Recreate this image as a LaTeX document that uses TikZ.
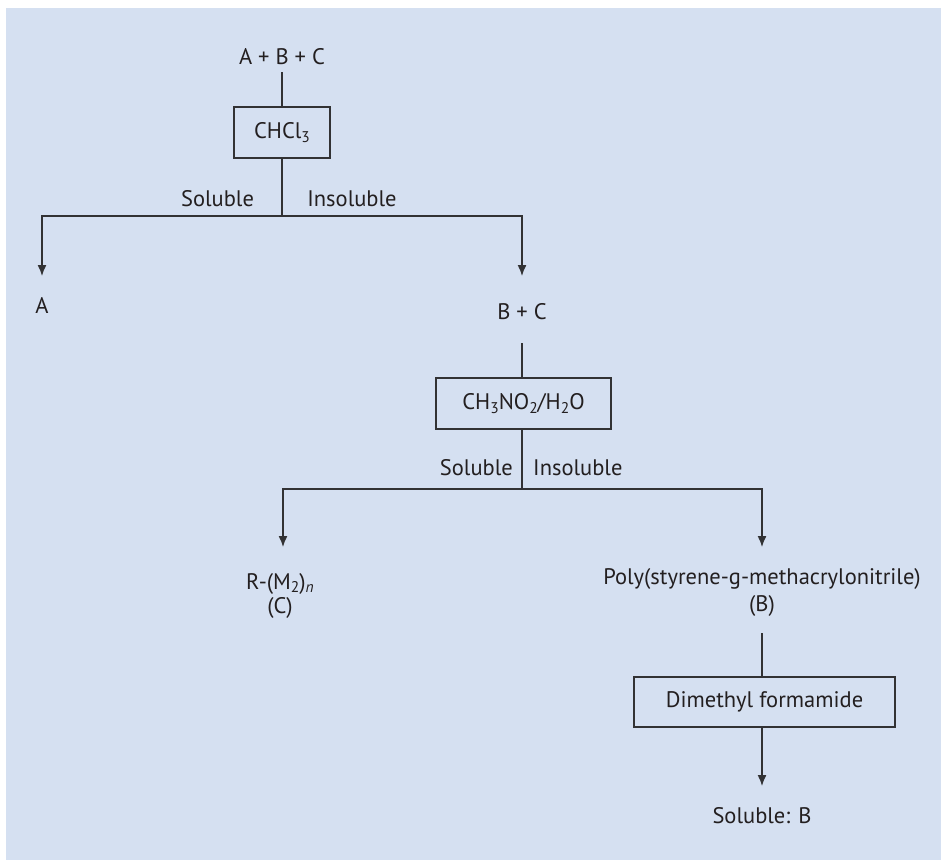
\documentclass[tikz,border=0pt]{standalone}
\usepackage{fontspec}
\setmainfont{PT Sans}
\usetikzlibrary{arrows.meta}
\definecolor{bgblue}{RGB}{213,224,241}
\definecolor{linegray}{RGB}{50,50,52}
\definecolor{txt}{RGB}{35,31,32}
\newcommand\chemsub[1]{\raisebox{-0.32ex}{\fontsize{15.5}{15.5}\selectfont #1}}
\tikzset{
  lbl/.style={inner sep=0pt, text height=16pt, text depth=4pt, text=txt, font=\fontsize{22.5}{27}\selectfont},
  solv/.style={draw=linegray, line width=1.4pt, fill=bgblue, inner sep=0pt, text=txt, font=\fontsize{22.5}{27}\selectfont},
  conn/.style={draw=linegray, line width=1.4pt},
  arr/.style={conn, -{Latex[length=11pt,width=9pt]}},
}
\begin{document}
\begin{tikzpicture}[x=1pt,y=-1pt]
\useasboundingbox (0,0) rectangle (941,860);
\fill[bgblue] (6,8) rectangle (941,860);

% first separation
\node[lbl] (abc) at (282,58) {A + B + C};
\node[solv, minimum width=96pt, minimum height=51pt] (chcl) at (282,132.5) {CHCl\chemsub{3}};
\coordinate (j1) at (282,216);
\coordinate (tA) at (42,276);
\coordinate (tBC) at (522,276);
\node[lbl] (A) at (42,307) {A};
\node[lbl] (sol1) at (217.5,200) {Soluble};
\node[lbl] (ins1) at (352,200) {Insoluble};
\draw[conn, shorten <=4pt] (abc.south) -- (chcl.north);
\draw[conn] (chcl.south) -- (j1);
\draw[arr] (j1) -| (tA);
\draw[arr] (j1) -| (tBC);

% second separation
\node[lbl] (bc) at (522,313) {B + C};
\coordinate (bcOut) at (522,343);
\node[solv, minimum width=175pt, minimum height=51pt] (nitro) at (523.5,403.5) {CH\chemsub{3}NO\chemsub{2}/H\chemsub{2}O};
\coordinate (j2) at (522,489);
\coordinate (tC) at (283,547);
\coordinate (tB) at (762,547);
\node[lbl, anchor=east] (sol2) at (513,469) {Soluble};
\node[lbl, anchor=west] (ins2) at (533,469) {Insoluble};
\draw[conn] (bcOut) -- (nitro.north -| bcOut);
\draw[conn] (nitro.south -| j2) -- (j2);
\draw[arr] (j2) -| (tC);
\draw[arr] (j2) -| (tB);

\node[lbl] (rm) at (280,583) {R-(M\chemsub{2})\chemsub{\itshape n}};
\node[lbl] (c) at (280,607) {(C)};
\node[lbl] (poly) at (762,578) {Poly(styrene-g-methacrylonitrile)};
\node[lbl] (b) at (762,605) {(B)};

% third step
\coordinate (bOut) at (762,633);
\node[solv, minimum width=261pt, minimum height=50pt] (dmf) at (764.5,702) {Dimethyl formamide};
\coordinate (tS) at (762,786);
\node[lbl] (solB) at (762,817) {Soluble: B};
\draw[conn] (bOut) -- (dmf.north -| bOut);
\draw[arr] (dmf.south -| tS) -- (tS);
\end{tikzpicture}
\end{document}
